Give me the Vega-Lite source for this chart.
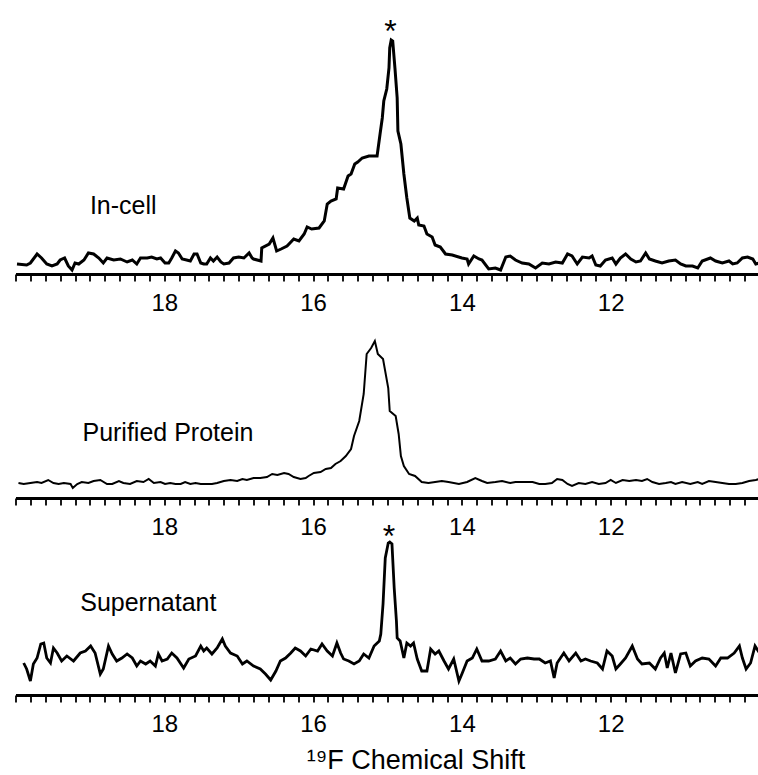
{
  "$schema": "https://vega.github.io/schema/vega-lite/v6.json",
  "padding": {"left": 10.5, "top": 11, "right": 2, "bottom": 2},
  "spacing": 40,
  "bounds": "flush",
  "config": {
    "view": {"stroke": null},
    "font": "Liberation Sans",
    "axis": {
      "grid": false,
      "ticks": true,
      "domainColor": "black",
      "domainWidth": 3,
      "tickColor": "black",
      "tickWidth": 1.8,
      "tickSize": 7,
      "labelFont": "Liberation Sans",
      "labelFontSize": 24,
      "labelColor": "black",
      "labelPadding": 10,
      "labelOverlap": false,
      "labelFlush": false,
      "titleFont": "Liberation Sans",
      "titleFontSize": 27,
      "titleFontWeight": "normal",
      "titleColor": "black"
    },
    "text": {"font": "Liberation Sans", "color": "black"}
  },
  "datasets": {
    "incell": [
      {"ppm":19.98,"i":9},{"ppm":19.85,"i":8},{"ppm":19.80,"i":10},{"ppm":19.71,"i":19},{"ppm":19.65,"i":15},{"ppm":19.58,"i":9},{"ppm":19.51,"i":7},{"ppm":19.44,"i":9},{"ppm":19.40,"i":13},{"ppm":19.34,"i":15},{"ppm":19.29,"i":7},{"ppm":19.24,"i":3},{"ppm":19.20,"i":10},{"ppm":19.15,"i":9},{"ppm":19.08,"i":13},{"ppm":19.02,"i":20},{"ppm":18.95,"i":19},{"ppm":18.88,"i":15},{"ppm":18.82,"i":10},{"ppm":18.77,"i":15},{"ppm":18.68,"i":13},{"ppm":18.59,"i":14},{"ppm":18.50,"i":11},{"ppm":18.43,"i":13},{"ppm":18.37,"i":9},{"ppm":18.32,"i":15},{"ppm":18.23,"i":15},{"ppm":18.17,"i":16},{"ppm":18.10,"i":14},{"ppm":18.05,"i":15},{"ppm":17.99,"i":10},{"ppm":17.94,"i":10},{"ppm":17.90,"i":15},{"ppm":17.85,"i":22},{"ppm":17.81,"i":20},{"ppm":17.76,"i":14},{"ppm":17.70,"i":13},{"ppm":17.65,"i":12},{"ppm":17.60,"i":19},{"ppm":17.56,"i":19},{"ppm":17.51,"i":10},{"ppm":17.47,"i":9},{"ppm":17.43,"i":9},{"ppm":17.38,"i":15},{"ppm":17.34,"i":12},{"ppm":17.29,"i":16},{"ppm":17.24,"i":11},{"ppm":17.20,"i":9},{"ppm":17.13,"i":10},{"ppm":17.07,"i":15},{"ppm":17.00,"i":16},{"ppm":16.93,"i":15},{"ppm":16.86,"i":20},{"ppm":16.82,"i":15},{"ppm":16.80,"i":14},{"ppm":16.70,"i":12},{"ppm":16.69,"i":25},{"ppm":16.59,"i":29},{"ppm":16.54,"i":35},{"ppm":16.49,"i":22},{"ppm":16.43,"i":24},{"ppm":16.35,"i":27},{"ppm":16.26,"i":34},{"ppm":16.19,"i":32},{"ppm":16.12,"i":39},{"ppm":16.08,"i":46},{"ppm":16.02,"i":44},{"ppm":15.92,"i":45},{"ppm":15.85,"i":52},{"ppm":15.81,"i":69},{"ppm":15.76,"i":72},{"ppm":15.69,"i":74},{"ppm":15.67,"i":85},{"ppm":15.59,"i":84},{"ppm":15.53,"i":97},{"ppm":15.49,"i":99},{"ppm":15.44,"i":109},{"ppm":15.40,"i":111},{"ppm":15.34,"i":115},{"ppm":15.25,"i":117},{"ppm":15.14,"i":117},{"ppm":15.10,"i":139},{"ppm":15.07,"i":155},{"ppm":15.05,"i":172},{"ppm":15.01,"i":184},{"ppm":14.98,"i":205},{"ppm":14.97,"i":225},{"ppm":14.95,"i":233},{"ppm":14.93,"i":232},{"ppm":14.90,"i":205},{"ppm":14.87,"i":175},{"ppm":14.86,"i":142},{"ppm":14.82,"i":129},{"ppm":14.78,"i":99},{"ppm":14.74,"i":75},{"ppm":14.70,"i":55},{"ppm":14.64,"i":52},{"ppm":14.60,"i":55},{"ppm":14.58,"i":48},{"ppm":14.51,"i":47},{"ppm":14.47,"i":39},{"ppm":14.40,"i":36},{"ppm":14.36,"i":28},{"ppm":14.29,"i":26},{"ppm":14.22,"i":19},{"ppm":14.13,"i":18},{"ppm":14.00,"i":15},{"ppm":13.93,"i":14},{"ppm":13.91,"i":9},{"ppm":13.84,"i":17},{"ppm":13.77,"i":14},{"ppm":13.73,"i":13},{"ppm":13.64,"i":4},{"ppm":13.55,"i":5},{"ppm":13.48,"i":3},{"ppm":13.41,"i":16},{"ppm":13.35,"i":17},{"ppm":13.28,"i":13},{"ppm":13.19,"i":10},{"ppm":13.10,"i":9},{"ppm":13.01,"i":5},{"ppm":12.92,"i":10},{"ppm":12.83,"i":9},{"ppm":12.74,"i":11},{"ppm":12.65,"i":10},{"ppm":12.58,"i":19},{"ppm":12.52,"i":17},{"ppm":12.45,"i":9},{"ppm":12.38,"i":16},{"ppm":12.29,"i":15},{"ppm":12.25,"i":17},{"ppm":12.20,"i":8},{"ppm":12.14,"i":7},{"ppm":12.07,"i":13},{"ppm":11.98,"i":15},{"ppm":11.93,"i":9},{"ppm":11.87,"i":15},{"ppm":11.80,"i":19},{"ppm":11.73,"i":14},{"ppm":11.66,"i":11},{"ppm":11.60,"i":12},{"ppm":11.53,"i":20},{"ppm":11.48,"i":14},{"ppm":11.40,"i":12},{"ppm":11.31,"i":10},{"ppm":11.22,"i":12},{"ppm":11.13,"i":13},{"ppm":11.06,"i":9},{"ppm":10.99,"i":7},{"ppm":10.90,"i":7},{"ppm":10.83,"i":5},{"ppm":10.77,"i":12},{"ppm":10.66,"i":15},{"ppm":10.59,"i":12},{"ppm":10.50,"i":10},{"ppm":10.41,"i":12},{"ppm":10.36,"i":9},{"ppm":10.30,"i":10},{"ppm":10.23,"i":15},{"ppm":10.16,"i":16},{"ppm":10.09,"i":14},{"ppm":10.05,"i":9},{"ppm":10.00,"i":10}
    ],
    "purified": [
      {"ppm":19.96,"i":15},{"ppm":19.89,"i":14},{"ppm":19.80,"i":15},{"ppm":19.71,"i":16},{"ppm":19.65,"i":15},{"ppm":19.56,"i":18},{"ppm":19.49,"i":15},{"ppm":19.42,"i":14},{"ppm":19.35,"i":15},{"ppm":19.26,"i":14},{"ppm":19.23,"i":10},{"ppm":19.17,"i":14},{"ppm":19.11,"i":16},{"ppm":19.02,"i":15},{"ppm":18.95,"i":17},{"ppm":18.86,"i":18},{"ppm":18.77,"i":14},{"ppm":18.70,"i":14},{"ppm":18.61,"i":17},{"ppm":18.55,"i":15},{"ppm":18.46,"i":14},{"ppm":18.37,"i":17},{"ppm":18.28,"i":16},{"ppm":18.21,"i":19},{"ppm":18.14,"i":15},{"ppm":18.05,"i":16},{"ppm":17.99,"i":14},{"ppm":17.92,"i":15},{"ppm":17.85,"i":14},{"ppm":17.78,"i":14},{"ppm":17.72,"i":16},{"ppm":17.65,"i":14},{"ppm":17.58,"i":15},{"ppm":17.51,"i":14},{"ppm":17.43,"i":14},{"ppm":17.36,"i":14},{"ppm":17.29,"i":15},{"ppm":17.20,"i":17},{"ppm":17.11,"i":18},{"ppm":17.02,"i":17},{"ppm":16.95,"i":19},{"ppm":16.89,"i":18},{"ppm":16.80,"i":20},{"ppm":16.71,"i":20},{"ppm":16.62,"i":21},{"ppm":16.55,"i":24},{"ppm":16.48,"i":23},{"ppm":16.39,"i":25},{"ppm":16.33,"i":24},{"ppm":16.26,"i":21},{"ppm":16.17,"i":19},{"ppm":16.10,"i":20},{"ppm":16.06,"i":22},{"ppm":15.99,"i":25},{"ppm":15.90,"i":26},{"ppm":15.83,"i":29},{"ppm":15.76,"i":30},{"ppm":15.70,"i":34},{"ppm":15.63,"i":37},{"ppm":15.56,"i":42},{"ppm":15.49,"i":49},{"ppm":15.45,"i":62},{"ppm":15.38,"i":77},{"ppm":15.32,"i":104},{"ppm":15.28,"i":144},{"ppm":15.22,"i":150},{"ppm":15.17,"i":157},{"ppm":15.13,"i":144},{"ppm":15.06,"i":139},{"ppm":14.99,"i":110},{"ppm":14.97,"i":87},{"ppm":14.89,"i":82},{"ppm":14.85,"i":64},{"ppm":14.82,"i":42},{"ppm":14.78,"i":32},{"ppm":14.71,"i":24},{"ppm":14.63,"i":22},{"ppm":14.54,"i":16},{"ppm":14.45,"i":15},{"ppm":14.36,"i":16},{"ppm":14.27,"i":17},{"ppm":14.18,"i":16},{"ppm":14.04,"i":14},{"ppm":13.93,"i":16},{"ppm":13.82,"i":20},{"ppm":13.73,"i":17},{"ppm":13.66,"i":15},{"ppm":13.55,"i":16},{"ppm":13.46,"i":17},{"ppm":13.35,"i":15},{"ppm":13.28,"i":16},{"ppm":13.15,"i":16},{"ppm":13.05,"i":16},{"ppm":12.96,"i":14},{"ppm":12.88,"i":14},{"ppm":12.79,"i":15},{"ppm":12.72,"i":19},{"ppm":12.65,"i":18},{"ppm":12.58,"i":14},{"ppm":12.52,"i":12},{"ppm":12.43,"i":15},{"ppm":12.34,"i":14},{"ppm":12.25,"i":16},{"ppm":12.16,"i":14},{"ppm":12.07,"i":15},{"ppm":12.00,"i":18},{"ppm":11.93,"i":15},{"ppm":11.84,"i":18},{"ppm":11.75,"i":17},{"ppm":11.66,"i":18},{"ppm":11.58,"i":17},{"ppm":11.51,"i":19},{"ppm":11.44,"i":16},{"ppm":11.35,"i":14},{"ppm":11.26,"i":15},{"ppm":11.19,"i":16},{"ppm":11.13,"i":14},{"ppm":11.04,"i":16},{"ppm":10.93,"i":14},{"ppm":10.83,"i":16},{"ppm":10.77,"i":14},{"ppm":10.68,"i":17},{"ppm":10.59,"i":16},{"ppm":10.50,"i":15},{"ppm":10.41,"i":14},{"ppm":10.32,"i":14},{"ppm":10.23,"i":15},{"ppm":10.14,"i":17},{"ppm":10.05,"i":18},{"ppm":10.00,"i":19}
    ],
    "supernatant": [
      {"ppm":19.89,"i":32},{"ppm":19.85,"i":26},{"ppm":19.80,"i":14},{"ppm":19.76,"i":31},{"ppm":19.71,"i":37},{"ppm":19.66,"i":51},{"ppm":19.62,"i":52},{"ppm":19.58,"i":37},{"ppm":19.53,"i":32},{"ppm":19.49,"i":47},{"ppm":19.44,"i":42},{"ppm":19.38,"i":34},{"ppm":19.31,"i":39},{"ppm":19.22,"i":34},{"ppm":19.13,"i":42},{"ppm":19.06,"i":44},{"ppm":18.99,"i":49},{"ppm":18.93,"i":42},{"ppm":18.86,"i":21},{"ppm":18.82,"i":26},{"ppm":18.75,"i":49},{"ppm":18.70,"i":41},{"ppm":18.64,"i":34},{"ppm":18.57,"i":37},{"ppm":18.50,"i":41},{"ppm":18.43,"i":37},{"ppm":18.37,"i":29},{"ppm":18.32,"i":34},{"ppm":18.25,"i":31},{"ppm":18.19,"i":34},{"ppm":18.12,"i":29},{"ppm":18.08,"i":41},{"ppm":18.03,"i":34},{"ppm":17.96,"i":36},{"ppm":17.90,"i":42},{"ppm":17.83,"i":37},{"ppm":17.74,"i":27},{"ppm":17.67,"i":36},{"ppm":17.58,"i":39},{"ppm":17.51,"i":49},{"ppm":17.47,"i":44},{"ppm":17.43,"i":47},{"ppm":17.36,"i":41},{"ppm":17.29,"i":47},{"ppm":17.22,"i":56},{"ppm":17.18,"i":49},{"ppm":17.11,"i":42},{"ppm":17.02,"i":39},{"ppm":16.95,"i":31},{"ppm":16.89,"i":34},{"ppm":16.80,"i":29},{"ppm":16.71,"i":26},{"ppm":16.64,"i":21},{"ppm":16.57,"i":15},{"ppm":16.50,"i":24},{"ppm":16.44,"i":34},{"ppm":16.37,"i":37},{"ppm":16.30,"i":42},{"ppm":16.24,"i":47},{"ppm":16.17,"i":44},{"ppm":16.10,"i":39},{"ppm":16.03,"i":46},{"ppm":15.94,"i":44},{"ppm":15.88,"i":51},{"ppm":15.81,"i":44},{"ppm":15.74,"i":39},{"ppm":15.68,"i":52},{"ppm":15.63,"i":42},{"ppm":15.59,"i":36},{"ppm":15.52,"i":34},{"ppm":15.45,"i":31},{"ppm":15.38,"i":34},{"ppm":15.32,"i":41},{"ppm":15.25,"i":37},{"ppm":15.18,"i":49},{"ppm":15.11,"i":54},{"ppm":15.09,"i":61},{"ppm":15.06,"i":91},{"ppm":15.03,"i":137},{"ppm":14.99,"i":152},{"ppm":14.97,"i":153},{"ppm":14.94,"i":151},{"ppm":14.91,"i":107},{"ppm":14.88,"i":74},{"ppm":14.87,"i":57},{"ppm":14.83,"i":54},{"ppm":14.78,"i":37},{"ppm":14.74,"i":52},{"ppm":14.69,"i":49},{"ppm":14.65,"i":52},{"ppm":14.60,"i":36},{"ppm":14.54,"i":24},{"ppm":14.47,"i":24},{"ppm":14.42,"i":46},{"ppm":14.36,"i":41},{"ppm":14.31,"i":44},{"ppm":14.24,"i":34},{"ppm":14.18,"i":26},{"ppm":14.11,"i":36},{"ppm":14.04,"i":14},{"ppm":14.00,"i":21},{"ppm":13.93,"i":34},{"ppm":13.86,"i":37},{"ppm":13.80,"i":46},{"ppm":13.73,"i":34},{"ppm":13.64,"i":34},{"ppm":13.55,"i":36},{"ppm":13.48,"i":44},{"ppm":13.41,"i":34},{"ppm":13.35,"i":37},{"ppm":13.28,"i":31},{"ppm":13.21,"i":36},{"ppm":13.12,"i":37},{"ppm":13.03,"i":36},{"ppm":12.96,"i":36},{"ppm":12.88,"i":32},{"ppm":12.81,"i":34},{"ppm":12.76,"i":17},{"ppm":12.72,"i":32},{"ppm":12.63,"i":42},{"ppm":12.56,"i":34},{"ppm":12.47,"i":42},{"ppm":12.40,"i":34},{"ppm":12.34,"i":36},{"ppm":12.27,"i":34},{"ppm":12.18,"i":32},{"ppm":12.11,"i":26},{"ppm":12.05,"i":44},{"ppm":11.98,"i":39},{"ppm":11.93,"i":26},{"ppm":11.87,"i":31},{"ppm":11.80,"i":37},{"ppm":11.71,"i":49},{"ppm":11.64,"i":36},{"ppm":11.58,"i":31},{"ppm":11.48,"i":32},{"ppm":11.40,"i":26},{"ppm":11.33,"i":37},{"ppm":11.28,"i":42},{"ppm":11.24,"i":27},{"ppm":11.19,"i":42},{"ppm":11.13,"i":22},{"ppm":11.06,"i":41},{"ppm":10.99,"i":42},{"ppm":10.93,"i":29},{"ppm":10.86,"i":34},{"ppm":10.77,"i":37},{"ppm":10.68,"i":36},{"ppm":10.59,"i":29},{"ppm":10.52,"i":37},{"ppm":10.43,"i":37},{"ppm":10.34,"i":42},{"ppm":10.27,"i":49},{"ppm":10.23,"i":37},{"ppm":10.18,"i":26},{"ppm":10.12,"i":32},{"ppm":10.06,"i":49},{"ppm":10.00,"i":42}
    ]
  },
  "vconcat": [
    {
      "width": 744,
      "height": 263,
      "layer": [
        {
          "data": {"name": "incell"},
          "mark": {"type": "line", "color": "black", "strokeWidth": 3},
          "encoding": {
            "x": {"field": "ppm", "type": "quantitative",
              "scale": {"domain": [10, 20], "reverse": true, "nice": false, "zero": false},
              "axis": {"title": null, "tickCount": 100,
                "values": [10,10.2,10.4,10.6,10.8,11,11.2,11.4,11.6,11.8,12,12.2,12.4,12.6,12.8,13,13.2,13.4,13.6,13.8,14,14.2,14.4,14.6,14.8,15,15.2,15.4,15.6,15.8,16,16.2,16.4,16.6,16.8,17,17.2,17.4,17.6,17.8,18,18.2,18.4,18.6,18.8,19,19.2,19.4,19.6,19.8,20],
                "labelExpr": "(abs(datum.value - 12) < 0.01 || abs(datum.value - 14) < 0.01 || abs(datum.value - 16) < 0.01 || abs(datum.value - 18) < 0.01) ? format(datum.value, 'd') : ''"}},
            "y": {"field": "i", "type": "quantitative",
              "scale": {"domain": [-1, 262], "nice": false, "zero": false},
              "axis": null}
          }
        },
        {
          "data": {"values": [{}]},
          "mark": {"type": "text", "text": "In-cell", "fontSize": 25, "align": "left", "baseline": "alphabetic"},
          "encoding": {"x": {"datum": 19.0}, "y": {"datum": 59}}
        },
        {
          "data": {"values": [{}]},
          "mark": {"type": "text", "text": "*", "fontSize": 32, "align": "center", "baseline": "alphabetic"},
          "encoding": {"x": {"datum": 14.96}, "y": {"datum": 231}}
        }
      ]
    },
    {
      "width": 744,
      "height": 184,
      "layer": [
        {
          "data": {"name": "purified"},
          "mark": {"type": "line", "color": "black", "strokeWidth": 2},
          "encoding": {
            "x": {"field": "ppm", "type": "quantitative",
              "scale": {"domain": [10, 20], "reverse": true, "nice": false, "zero": false},
              "axis": {"title": null, "tickCount": 100,
                "values": [10,10.2,10.4,10.6,10.8,11,11.2,11.4,11.6,11.8,12,12.2,12.4,12.6,12.8,13,13.2,13.4,13.6,13.8,14,14.2,14.4,14.6,14.8,15,15.2,15.4,15.6,15.8,16,16.2,16.4,16.6,16.8,17,17.2,17.4,17.6,17.8,18,18.2,18.4,18.6,18.8,19,19.2,19.4,19.6,19.8,20],
                "labelExpr": "(abs(datum.value - 12) < 0.01 || abs(datum.value - 14) < 0.01 || abs(datum.value - 16) < 0.01 || abs(datum.value - 18) < 0.01) ? format(datum.value, 'd') : ''"}},
            "y": {"field": "i", "type": "quantitative",
              "scale": {"domain": [0, 184], "nice": false, "zero": false},
              "axis": null}
          }
        },
        {
          "data": {"values": [{}]},
          "mark": {"type": "text", "text": "Purified Protein", "fontSize": 25, "align": "left", "baseline": "alphabetic"},
          "encoding": {"x": {"datum": 19.1}, "y": {"datum": 57}}
        }
      ]
    },
    {
      "width": 744,
      "height": 157,
      "layer": [
        {
          "data": {"name": "supernatant"},
          "mark": {"type": "line", "color": "black", "strokeWidth": 2.8},
          "encoding": {
            "x": {"field": "ppm", "type": "quantitative",
              "scale": {"domain": [10, 20], "reverse": true, "nice": false, "zero": false},
              "axis": {"title": "¹⁹F Chemical Shift", "tickCount": 100,
                "titleX": 400, "titleY": 73, "titleAlign": "center", "titleBaseline": "alphabetic",
                "values": [10,10.2,10.4,10.6,10.8,11,11.2,11.4,11.6,11.8,12,12.2,12.4,12.6,12.8,13,13.2,13.4,13.6,13.8,14,14.2,14.4,14.6,14.8,15,15.2,15.4,15.6,15.8,16,16.2,16.4,16.6,16.8,17,17.2,17.4,17.6,17.8,18,18.2,18.4,18.6,18.8,19,19.2,19.4,19.6,19.8,20],
                "labelExpr": "(abs(datum.value - 12) < 0.01 || abs(datum.value - 14) < 0.01 || abs(datum.value - 16) < 0.01 || abs(datum.value - 18) < 0.01) ? format(datum.value, 'd') : ''"}},
            "y": {"field": "i", "type": "quantitative",
              "scale": {"domain": [0, 157], "nice": false, "zero": false},
              "axis": null}
          }
        },
        {
          "data": {"values": [{}]},
          "mark": {"type": "text", "text": "Supernatant", "fontSize": 25, "align": "left", "baseline": "alphabetic"},
          "encoding": {"x": {"datum": 19.13}, "y": {"datum": 84}}
        },
        {
          "data": {"values": [{}]},
          "mark": {"type": "text", "text": "*", "fontSize": 32, "align": "center", "baseline": "alphabetic"},
          "encoding": {"x": {"datum": 14.98}, "y": {"datum": 148}}
        }
      ]
    }
  ]
}
